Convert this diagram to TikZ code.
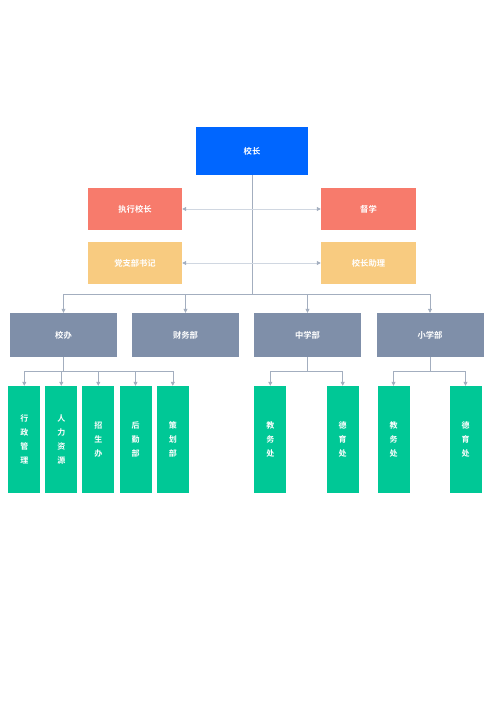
\documentclass[tikz,border=0pt]{standalone}
\usepackage{fontspec}
\newfontfamily\cjk{Noto Sans CJK SC}[BoldFont={Noto Sans CJK SC Bold}]
\usetikzlibrary{arrows.meta}
\definecolor{cblue}{HTML}{0066FF}
\definecolor{cred}{HTML}{F77B6C}
\definecolor{cyel}{HTML}{F8CB80}
\definecolor{cgray}{HTML}{7F8FA9}
\definecolor{cgreen}{HTML}{00C896}
\definecolor{cline}{HTML}{A3AEBF}
\definecolor{clight}{HTML}{D0D7E1}
\begin{document}
\begin{tikzpicture}[x=1pt,y=-1pt,
  box/.style={rectangle,draw=none,inner sep=0pt,text=white,font=\cjk\bfseries\fontsize{8.3}{10}\selectfont},
  vbox/.style={box,fill=cgreen,minimum width=32pt,minimum height=107pt,align=center,font=\cjk\bfseries\fontsize{8}{14}\selectfont},
  conn/.style={draw=cline,line width=0.6pt,-{Triangle[length=4pt,width=4pt]}},
  side/.style={draw=clight,line width=0.9pt,{Triangle[length=4pt,width=4pt,fill=cline,color=cline]}-{Triangle[length=4pt,width=4pt,fill=cline,color=cline]}}]
\useasboundingbox (0,0) rectangle (500,707);
% top
\node[box,fill=cblue,minimum width=112pt,minimum height=48pt] (head) at (252,151) {校长};
\node[box,fill=cred,minimum width=94pt,minimum height=42pt] (exec) at (135,209) {执行校长};
\node[box,fill=cred,minimum width=95pt,minimum height=42pt] (insp) at (368.5,209) {督学};
\node[box,fill=cyel,minimum width=94pt,minimum height=42pt] (party) at (135,263) {党支部书记};
\node[box,fill=cyel,minimum width=95pt,minimum height=42pt] (asst) at (368.5,263) {校长助理};
% departments
\node[box,fill=cgray,minimum width=107pt,minimum height=44pt] (xb) at (63.5,335) {校办};
\node[box,fill=cgray,minimum width=107pt,minimum height=44pt] (cw) at (185.5,335) {财务部};
\node[box,fill=cgray,minimum width=107pt,minimum height=44pt] (zx) at (307.5,335) {中学部};
\node[box,fill=cgray,minimum width=107pt,minimum height=44pt] (xx) at (430,335) {小学部};
% green
\node[vbox] (g1) at (24.3,439.5) {行\\政\\管\\理};
\node[vbox] (g2) at (61.3,439.5) {人\\力\\资\\源};
\node[vbox] (g3) at (98.3,439.5) {招\\生\\办};
\node[vbox] (g4) at (135.5,439.5) {后\\勤\\部};
\node[vbox] (g5) at (172.8,439.5) {策\\划\\部};
\node[vbox] (g6) at (270.3,439.5) {教\\务\\处};
\node[vbox] (g7) at (342.7,439.5) {德\\育\\处};
\node[vbox] (g8) at (393.5,439.5) {教\\务\\处};
\node[vbox] (g9) at (465.5,439.5) {德\\育\\处};
% coordinates
\coordinate (bus) at (252,294);
\coordinate (jx) at (63.5,371);
\coordinate (jz) at (307.5,371.5);
\coordinate (jxx) at (430,371.5);
% trunk
\draw[draw=cline,line width=0.6pt] (head.south) -- (bus);
\draw[side] (exec.east) -- (insp.west);
\draw[side] (party.east) -- (asst.west);
\foreach \n in {xb,cw,zx,xx}
  \draw[conn] (bus) -| (\n.north);
% sub
\draw[draw=cline,line width=0.6pt] (xb.south) -- (jx);
\foreach \n in {g1,g2,g3,g4,g5}
  \draw[conn] (jx) -| (\n.north);
\draw[draw=cline,line width=0.6pt] (zx.south) -- (jz);
\foreach \n in {g6,g7}
  \draw[conn] (jz) -| (\n.north);
\draw[draw=cline,line width=0.6pt] (xx.south) -- (jxx);
\foreach \n in {g8,g9}
  \draw[conn] (jxx) -| (\n.north);
\end{tikzpicture}
\end{document}
